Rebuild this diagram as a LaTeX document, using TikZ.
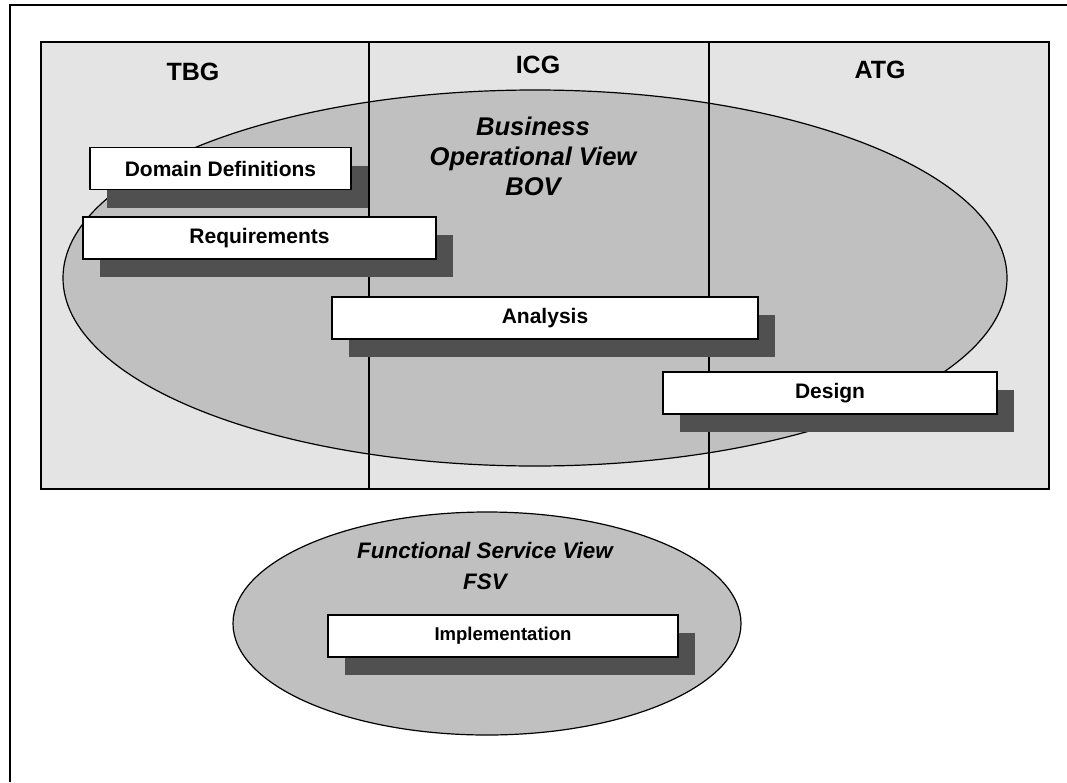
\documentclass[tikz,border=0pt]{standalone}
\usepackage{fontspec}
\setmainfont{Liberation Sans}
\usetikzlibrary{shapes.geometric,shadows}
\definecolor{lanegray}{HTML}{E4E4E4}
\definecolor{viewgray}{HTML}{C0C0C0}
\definecolor{shadegray}{HTML}{505050}

\begin{document}
\begin{tikzpicture}[x=0.75pt,y=-0.75pt]
	\tikzstyle{every node}+=[inner sep=0pt]
	\tikzstyle{lane}=[draw=black, line width=1pt, minimum height=335.25pt]
	\tikzstyle{view}=[ellipse, draw=black, line width=0.9pt, fill=viewgray]
	\tikzstyle{group}=[font=\fontsize{18.75}{22}\selectfont\bfseries]
	\tikzstyle{phase}=[draw=black, line width=1pt, fill=white, minimum height=31.5pt, font=\fontsize{15.75}{19}\selectfont\bfseries, general shadow={fill=shadegray, shadow xshift=13pt, shadow yshift=-13.5pt}]
	\useasboundingbox (0,0) rectangle (1067,782);
	\draw [black, line width=1.7pt] (10,782) -- (10,5) -- (1067,5);
	\fill [lanegray] (41,42) rectangle (1049,489);
	\node [view, minimum width=708pt, minimum height=282pt] (bov) at (535,278) {};
	\node [lane, minimum width=246pt] (tbglane) at (205,265.5) {};
	\node [lane, minimum width=255pt] (icglane) at (539,265.5) {};
	\node [lane, minimum width=255pt] (atglane) at (879,265.5) {};
	\node [group] (tbg) at (193,72) {TBG};
	\node [group] (icg) at (538,65) {ICG};
	\node [group] (atg) at (880,70) {ATG};
	\node [font=\fontsize{19.2}{22.5}\selectfont\bfseries\itshape, align=center] (bovtext) at (533,156) {Business\\Operational View\\BOV};
	\node [phase, minimum width=195.75pt] (domain) at (220.5,168.5) {Domain Definitions};
	\node [phase, minimum width=264.75pt] (requirements) at (259.5,238) {Requirements};
	\node [phase, minimum width=319.5pt] (analysis) at (545,318) {Analysis};
	\node [phase, minimum width=250.5pt] (design) at (830,393) {Design};
	\node [view, minimum width=381pt, minimum height=167.25pt] (fsv) at (487,623.5) {};
	\node [font=\fontsize{16.8}{23.25}\selectfont\bfseries\itshape, align=center] (fsvtext) at (485,565.5) {Functional Service View\\FSV};
	\node [phase, minimum width=262.5pt, font=\fontsize{13.9}{17}\selectfont\bfseries] (implementation) at (503,636) {Implementation};
\end{tikzpicture}
\end{document}
